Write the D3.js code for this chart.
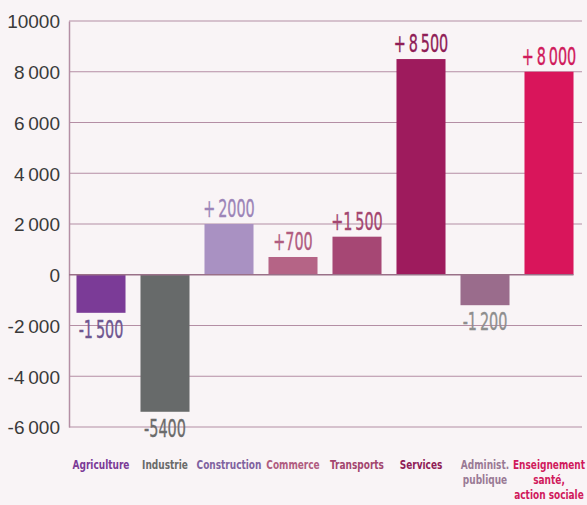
<!DOCTYPE html>
<html><head><meta charset="utf-8">
<script src="https://cdn.jsdelivr.net/npm/d3@7"></script>
<style>
html,body{margin:0;padding:0;background:#f9f4f6;}
svg{display:block;}
</style></head>
<body>
<svg id="chart" width="587" height="505"></svg>
<script>
const categories = ["Agriculture","Industrie","Construction","Commerce","Transports","Services","Administ.\npublique","Enseignement\nsanté,\naction sociale"];
const values = [-1500,-5400,2000,700,1500,8500,-1200,8000];
const valueLabels = ["-1\u2009500","-5400","+\u20092000","+700","+1\u2009500","+\u20098\u2009500","-1\u2009200","+\u20098\u2009000"];
const barColors = ["#7b3b97","#676a6a","#a991c2","#b56486","#a64774","#9e1b5d","#9a6c8c","#d9155b"];
const labelColors = ["#6f5690","#6b6b6b","#9c84b8","#b05c80","#a3466f","#8f1d57","#8e8e8e","#d01a5c"];
const catColors = ["#7b3a96","#6a6a6a","#7f62a0","#b05c80","#a3466f","#8f1d57","#9a7a95","#d01a5c"];
const yTicks = [10000,8000,6000,4000,2000,0,-2000,-4000,-6000];
const yTickLabels = ["10000","8\u2009000","6\u2009000","4\u2009000","2\u2009000","0","-2\u2009000","-4\u2009000","-6\u2009000"];

const svg = d3.select("#chart");
const x = d3.scaleBand().domain(categories).range([69,581]).paddingInner(0.234).paddingOuter(0.117);
const y = d3.scaleLinear().domain([-6000,10000]).range([427,21]);
const gridColor = "#b48ea4";
const narrow = "'DejaVu Sans Condensed','DejaVu Sans',sans-serif";

// gridlines
svg.append("g").selectAll("line").data(yTicks.filter(d=>d!==0)).join("line")
  .attr("x1",69).attr("x2",582).attr("y1",d=>y(d)).attr("y2",d=>y(d))
  .attr("stroke",gridColor).attr("stroke-width",1.2);

// y axis
const yAxis = d3.axisLeft(y).tickValues(yTicks).tickSize(0).tickPadding(9)
  .tickFormat((d,i)=>yTickLabels[i]);
const gy = svg.append("g").attr("transform","translate(69,0)").call(yAxis);
gy.select(".domain").attr("stroke",gridColor).attr("stroke-width",1.5);
gy.selectAll("text").attr("font-family","'Liberation Sans', Arial, sans-serif")
  .attr("font-size",19).attr("fill","#3a3a3a").attr("dy","0.36em");

// bars
svg.append("g").selectAll("rect").data(values).join("rect")
  .attr("x",(d,i)=>x(categories[i])).attr("width",x.bandwidth())
  .attr("y",d=>y(Math.max(0,d))).attr("height",d=>Math.abs(y(d)-y(0)))
  .attr("fill",(d,i)=>barColors[i]);

// zero line
svg.append("line").attr("x1",69).attr("x2",x(categories[7])+x.bandwidth())
  .attr("y1",y(0)).attr("y2",y(0)).attr("stroke","#9a7088").attr("stroke-width",1.5);

// value labels (horizontally compressed to mimic condensed face)
svg.append("g").selectAll("text").data(values).join("text")
  .attr("transform",(d,i)=>`translate(${x(categories[i])+x.bandwidth()/2},${d>=0 ? y(d)-7 : y(d)+25}) scale(0.64,1)`)
  .attr("text-anchor","middle")
  .attr("font-family",narrow)
  .attr("font-size",25)
  .attr("fill",(d,i)=>labelColors[i])
  .attr("stroke",(d,i)=>labelColors[i]).attr("stroke-width",0.35)
  .text((d,i)=>valueLabels[i]);

// category labels
const cg = svg.append("g");
categories.forEach((c,i)=>{
  const cx = x(c)+x.bandwidth()/2;
  const t = cg.append("text")
    .attr("transform",`translate(${cx},469) scale(0.8,1)`)
    .attr("text-anchor","middle")
    .attr("font-family",narrow)
    .attr("font-weight","bold").attr("font-size",12.5)
    .attr("fill",catColors[i]);
  c.split("\n").forEach((line,j)=>{
    t.append("tspan").attr("x",0).attr("dy",j===0?0:15).text(line);
  });
});
</script>
</body></html>
